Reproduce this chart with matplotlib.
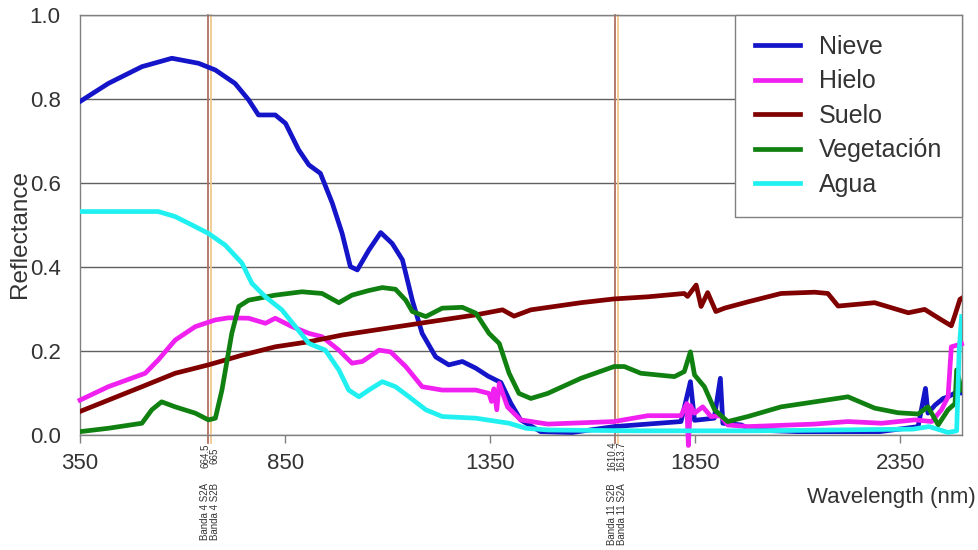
import matplotlib
matplotlib.use('Agg')
import matplotlib.pyplot as plt

plt.rcParams['font.family'] = ['Liberation Sans', 'DejaVu Sans']

# Spectral curves (wavelength nm, reflectance)
nieve_wl = [350, 419, 501, 574, 639, 680, 728, 761, 785, 826, 851, 883, 908, 936,
            965, 989, 1009, 1026, 1054, 1083, 1111, 1136, 1160, 1184, 1217, 1249,
            1282, 1315, 1345, 1376, 1400, 1424, 1473, 1550, 1652, 1815, 1838, 1848,
            1896, 1911, 1917, 1962, 1987, 2100, 2300, 2393, 2411, 2417, 2434, 2454,
            2466, 2483, 2500]
nieve_r = [0.794, 0.837, 0.877, 0.897, 0.885, 0.869, 0.837, 0.798, 0.762, 0.762, 0.742,
           0.679, 0.643, 0.623, 0.552, 0.480, 0.401, 0.393, 0.440, 0.482, 0.456, 0.417,
           0.321, 0.242, 0.186, 0.167, 0.175, 0.159, 0.140, 0.125, 0.076, 0.036, 0.008,
           0.006, 0.020, 0.032, 0.127, 0.035, 0.040, 0.135, 0.028, 0.024, 0.012, 0.008,
           0.008, 0.020, 0.111, 0.052, 0.071, 0.087, 0.091, 0.100, 0.100]

hielo_wl = [350, 419, 509, 541, 582, 631, 680, 712, 761, 802, 826, 867, 908, 940, 981,
            1013, 1038, 1079, 1107, 1144, 1184, 1233, 1315, 1347, 1353, 1359, 1366,
            1372, 1392, 1424, 1490, 1652, 1734, 1815, 1829, 1833, 1838, 1848, 1868,
            1888, 1911, 1929, 1978, 2141, 2222, 2304, 2385, 2426, 2450, 2466, 2474, 2499]
hielo_r = [0.083, 0.115, 0.147, 0.179, 0.226, 0.258, 0.274, 0.279, 0.278, 0.266, 0.278,
           0.258, 0.242, 0.234, 0.202, 0.171, 0.175, 0.202, 0.198, 0.163, 0.115, 0.107,
           0.107, 0.099, 0.080, 0.110, 0.060, 0.123, 0.067, 0.036, 0.026, 0.032, 0.046,
           0.046, 0.075, -0.025, 0.070, 0.052, 0.067, 0.044, 0.046, 0.024, 0.020, 0.026,
           0.032, 0.028, 0.036, 0.032, 0.060, 0.091, 0.210, 0.217]

suelo_wl = [350, 419, 501, 582, 663, 745, 826, 908, 989, 1070, 1152, 1233, 1315, 1380,
            1408, 1449, 1571, 1652, 1734, 1823, 1831, 1852, 1864, 1880, 1900, 1921,
            1978, 2059, 2141, 2173, 2198, 2287, 2369, 2409, 2450, 2474, 2483, 2495, 2500]
suelo_r = [0.056, 0.083, 0.115, 0.147, 0.167, 0.190, 0.210, 0.222, 0.238, 0.250, 0.262,
           0.274, 0.286, 0.298, 0.283, 0.298, 0.315, 0.324, 0.329, 0.337, 0.330, 0.357,
           0.306, 0.339, 0.294, 0.302, 0.317, 0.337, 0.340, 0.337, 0.307, 0.315, 0.291,
           0.299, 0.274, 0.260, 0.286, 0.323, 0.326]

veg_wl = [350, 419, 501, 525, 549, 582, 631, 663, 680, 696, 720, 737, 761, 826, 891,
          940, 981, 1013, 1054, 1087, 1119, 1144, 1160, 1193, 1233, 1282, 1315, 1347,
          1372, 1396, 1420, 1449, 1490, 1571, 1652, 1677, 1717, 1799, 1823, 1838, 1848,
          1872, 1897, 1929, 1978, 2059, 2141, 2222, 2287, 2344, 2393, 2417, 2442, 2466,
          2483, 2487, 2499]
veg_r = [0.008, 0.016, 0.028, 0.060, 0.079, 0.067, 0.052, 0.036, 0.040, 0.107, 0.242,
         0.306, 0.321, 0.333, 0.341, 0.337, 0.315, 0.333, 0.344, 0.351, 0.347, 0.321,
         0.294, 0.282, 0.302, 0.304, 0.290, 0.242, 0.218, 0.147, 0.099, 0.087, 0.099,
         0.135, 0.163, 0.163, 0.147, 0.139, 0.151, 0.198, 0.143, 0.115, 0.060, 0.032,
         0.044, 0.067, 0.079, 0.091, 0.064, 0.053, 0.050, 0.067, 0.024, 0.060, 0.075,
         0.155, 0.107]

agua_wl = [350, 541, 582, 623, 663, 704, 745, 769, 802, 842, 875, 908, 948, 981, 1005,
           1030, 1054, 1087, 1119, 1152, 1193, 1233, 1315, 1396, 1437, 1490, 1700, 2000,
           2380, 2420, 2440, 2466, 2487, 2493, 2499]
agua_r = [0.532, 0.532, 0.520, 0.500, 0.480, 0.452, 0.409, 0.361, 0.329, 0.298, 0.258,
          0.218, 0.202, 0.155, 0.107, 0.091, 0.107, 0.127, 0.115, 0.091, 0.060, 0.044,
          0.040, 0.028, 0.016, 0.012, 0.010, 0.010, 0.014, 0.020, 0.014, 0.006, 0.010,
          0.200, 0.282]

series = [
    ("Nieve", nieve_wl, nieve_r, "#1414c8"),
    ("Hielo", hielo_wl, hielo_r, "#f020f0"),
    ("Suelo", suelo_wl, suelo_r, "#800000"),
    ("Vegetación", veg_wl, veg_r, "#108010"),
    ("Agua", agua_wl, agua_r, "#20f0f0"),
]

# Sentinel-2 band markers: drawn position, number text, label text
band_pos = [663, 670, 1654, 1661]
band_num = ["664.5", "665", "1610.4", "1613.7"]
band_name = ["Banda 4 S2A", "Banda 4 S2B", "Banda 11 S2B", "Banda 11 S2A"]
band_colors = ["#b07060", "#f0c890", "#b07060", "#f0c890"]
band_text_pos = [655, 678, 1647, 1670]

x_ticks = [350, 850, 1350, 1850, 2350]
y_ticks = [0.0, 0.2, 0.4, 0.6, 0.8, 1.0]

fig = plt.figure(figsize=(9.79, 5.5), dpi=100)
ax = fig.add_axes([80 / 979, 1 - 435 / 550, 882 / 979, 420 / 550])

for name, wl, r, col in series:
    ax.plot(wl, r, color=col, lw=3.4, label=name, solid_joinstyle='round',
            clip_on=(name != "Hielo"), zorder=3)

for pos, col in zip(band_pos, band_colors):
    ax.axvline(pos, ymin=-0.02, ymax=1, color=col, lw=1.3, clip_on=False, zorder=2)

for tx, num, name in zip(band_text_pos, band_num, band_name):
    ax.text(tx, -0.05, num, rotation=90, ha='center', va='center',
            fontsize=7, color='#333333', clip_on=False)
    ax.text(tx, -0.114, name, rotation=90, ha='center', va='top',
            fontsize=7, color='#333333', clip_on=False)

ax.set_xlim(350, 2500)
ax.set_ylim(0, 1.0)
ax.set_xticks(x_ticks)
ax.set_yticks(y_ticks)
ax.set_yticklabels([f"{v:.1f}" for v in y_ticks])
ax.tick_params(axis='x', direction='out', length=6, width=1, color='#808080',
               labelsize=16, pad=7, labelcolor='#333333')
ax.tick_params(axis='y', length=0, labelsize=16, pad=14, labelcolor='#333333')
ax.grid(axis='y', color='#606060', lw=1)
ax.set_axisbelow(True)
for sp in ax.spines.values():
    sp.set_color('#808080')
    sp.set_linewidth(1)

fig.text(20 / 979, 1 - 234 / 550, "Reflectance", rotation=90, ha='center', va='center',
         fontsize=17.5, color='#333333')
fig.text(976 / 979, 1 - 497 / 550, "Wavelength (nm)", ha='right', va='center',
         fontsize=16, color='#333333')

leg = ax.legend(loc='upper right', bbox_to_anchor=(1, 1), borderaxespad=0,
                fontsize=18, fancybox=False, frameon=True, handlelength=1.8,
                labelspacing=0.42, borderpad=0.8, handletextpad=0.75)
leg.get_frame().set_edgecolor('#808080')
leg.get_frame().set_linewidth(1)
leg.get_frame().set_alpha(1)
for t in leg.get_texts():
    t.set_color('#333333')

fig.savefig("out.png", dpi=100)
